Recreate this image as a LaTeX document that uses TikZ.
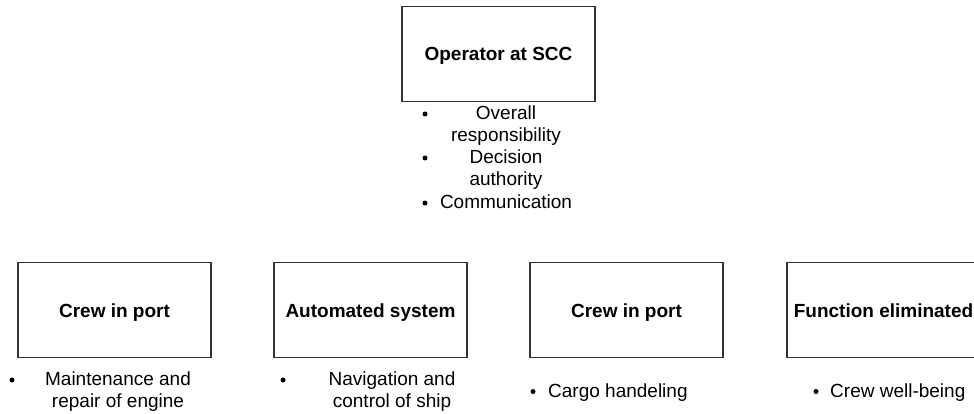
\documentclass[tikz,border=0pt]{standalone}
\usepackage{fontspec}
\setmainfont{Liberation Sans}
\begin{document}
\begin{tikzpicture}[x=1pt,y=-1pt,
  box/.style={draw=black!80, line width=1.6pt, minimum width=193pt, minimum height=95pt, inner sep=0pt, text height=14pt, text depth=0pt, font=\fontsize{19}{22}\selectfont\bfseries},
  txt/.style={inner sep=0pt, align=center, font=\fontsize{19}{22}\selectfont},
  one/.style={txt, text height=14pt, text depth=0pt},
  dot/.style={circle, fill=black, inner sep=0pt, minimum size=5pt}]
\useasboundingbox (0,0) rectangle (974,414);
% top
\node[box] (op) at (498.5,54) {Operator at SCC};
\node[txt] (t1) at (506,125.5) {Overall\\responsibility};
\node[txt] (t2) at (506,170) {Decision\\authority};
\node[one] (t3) at (506,201.5) {Communication};
\node[dot] (d1) at (425,114) {};
\node[dot] (d2) at (425,158) {};
\node[dot] (d3) at (425,203) {};
% bottom boxes
\node[box] (b1) at (114.5,310) {Crew in port};
\node[box] (b2) at (370.5,310) {Automated system};
\node[box] (b3) at (626.5,310) {Crew in port};
\node[box] (b4) at (883.5,310) {Function eliminated};
% bottom lists
\node[dot] (e1) at (12,380) {};
\node[txt] (u1) at (118,392) {Maintenance and\\repair of engine};
\node[dot] (e2) at (283,380) {};
\node[txt] (u2) at (392,392) {Navigation and\\control of ship};
\node[dot] (e3) at (533,391.5) {};
\node[one, anchor=west] (u3) at (548,390) {Cargo handeling};
\node[dot] (e4) at (816,391.5) {};
\node[one, anchor=west] (u4) at (830,390) {Crew well-being};
\end{tikzpicture}
\end{document}
